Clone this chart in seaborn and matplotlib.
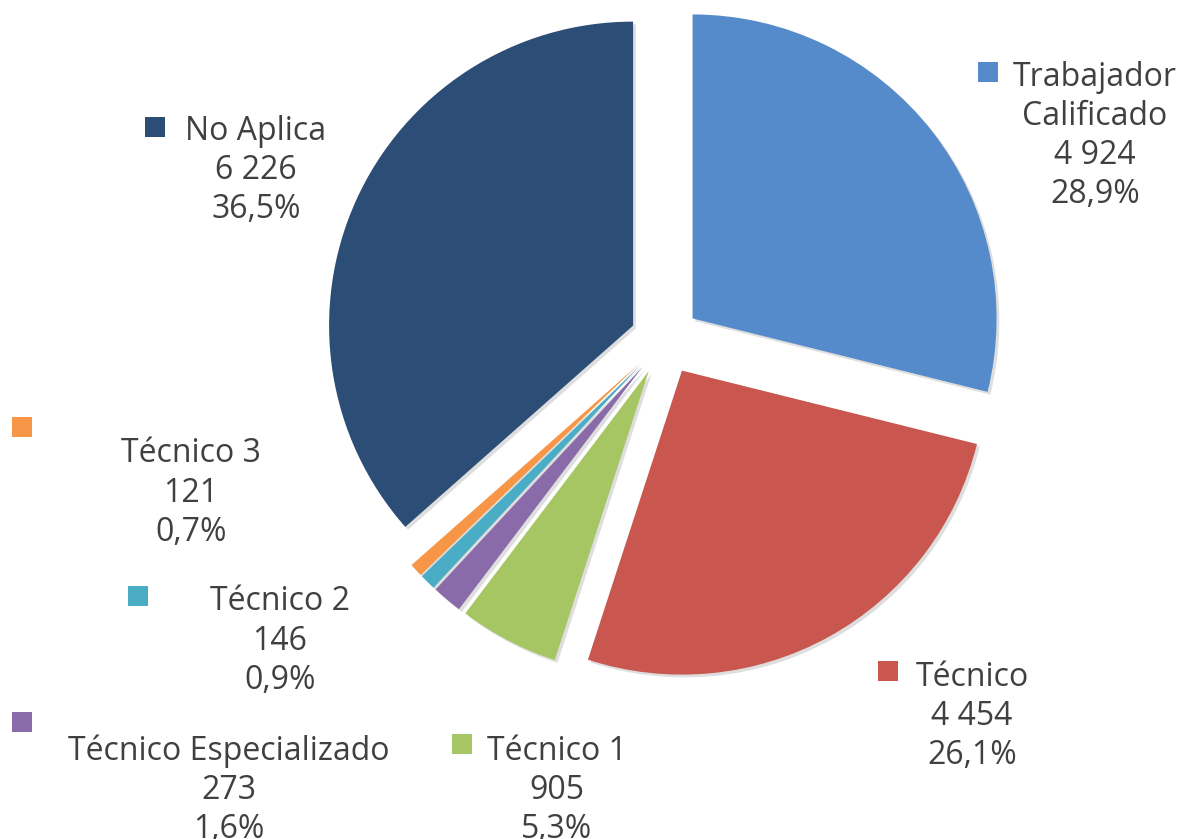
import numpy as np
import seaborn as sns
import matplotlib.pyplot as plt

# data, clockwise from 12 o'clock
names = ["Trabajador\nCalificado", "Técnico", "Técnico 1", "Técnico Especializado",
         "Técnico 2", "Técnico 3", "No Aplica"]
counts = [4924, 4454, 905, 273, 146, 121, 6226]
colors = ["#568BCB", "#C9564F", "#A6C663", "#8A6BAA", "#4BACC6", "#F79646", "#2C4D75"]

# label layout in pixels: key square centre, text block centre x and first line y
key_pos = [(988, 72), (888, 671), (462, 744), (22, 722), (138, 596), (22, 427), (155, 127)]
block_pos = [(1095, 73), (972, 673), (557, 747), (229, 747), (280, 598), (191, 450), (256, 127)]
line_gap = 39.3

W, H = 1185, 839
sns.set_theme(style="white")
plt.rcParams["font.family"] = ["Open Sans", "DejaVu Sans"]

fig = plt.figure(figsize=(W / 100, H / 100), dpi=100)
ax = fig.add_axes([0, 0, 1, 1])

# explode is in data units here (1 unit = 1 px)
ax.pie(counts, colors=colors, startangle=90, counterclock=False,
       center=(665, H - 340), radius=304, explode=[35] * len(counts),
       shadow={"ox": 2, "oy": -2, "facecolor": "#c8c8c8", "edgecolor": "none", "alpha": 0.6},
       wedgeprops={"linewidth": 0})
ax.set_xlim(0, W)
ax.set_ylim(0, H)
ax.set_aspect("equal")
ax.axis("off")

total = sum(counts)
txt = "#404040"
for i, n in enumerate(names):
    kx, ky = key_pos[i]
    ax.scatter([kx], [H - ky], marker="s", s=190, color=colors[i], linewidths=0, zorder=5)
    value = f"{counts[i]:,}".replace(",", " ")
    pct = f"{counts[i] / total * 100:.1f}%".replace(".", ",")
    lines = n.split("\n") + [value, pct]
    bx, by = block_pos[i]
    for k, line in enumerate(lines):
        ax.text(bx, H - (by + k * line_gap), line, ha="center", va="center_baseline",
                fontsize=23, color=txt)

plt.savefig("out.png", dpi=100)
